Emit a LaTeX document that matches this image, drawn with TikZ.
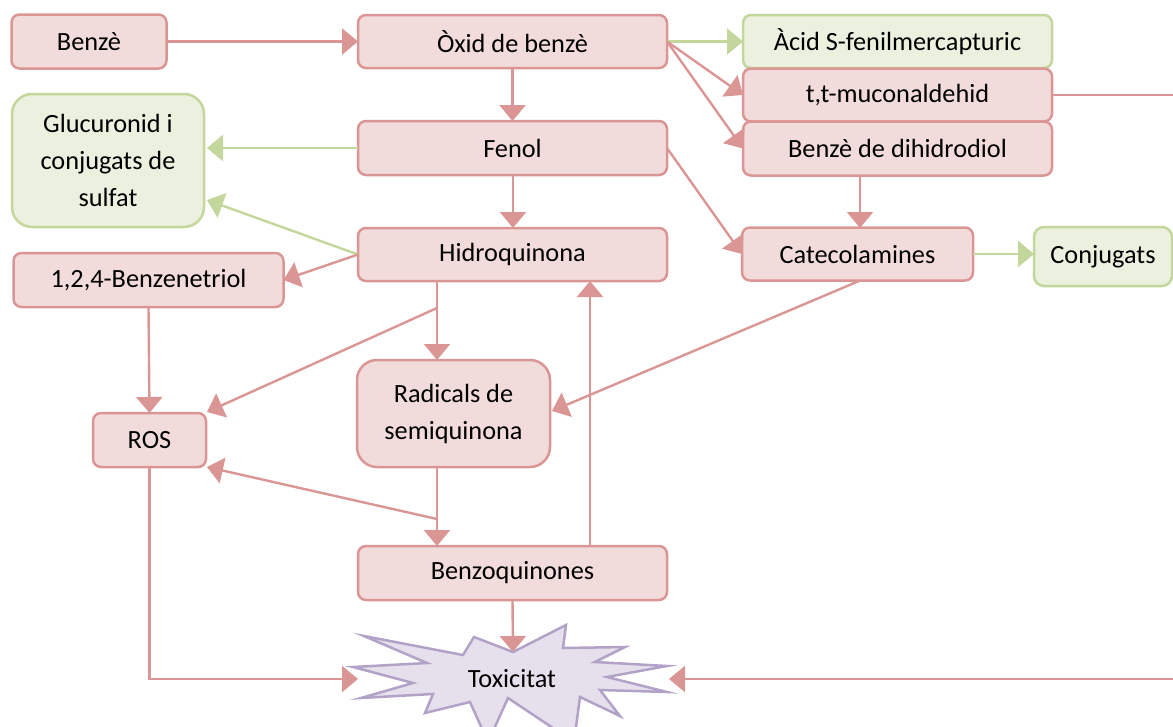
\documentclass[tikz,border=0pt]{standalone}
\usepackage{fontspec}
\setmainfont{Carlito}
\usetikzlibrary{arrows.meta}
\definecolor{pinkfill}{HTML}{F2DCDB}
\definecolor{pinkline}{HTML}{D99694}
\definecolor{greenfill}{HTML}{EBF1DE}
\definecolor{greenline}{HTML}{C3D69B}
\definecolor{violetfill}{HTML}{E5E0EC}
\definecolor{violetline}{HTML}{B3A2C7}
\begin{document}
\begin{tikzpicture}[x=1pt,y=-1pt,
  every node/.style={font=\fontsize{26.3}{37}\selectfont, text=black, inner sep=0pt, outer sep=0pt},
  box/.style={rectangle, rounded corners=8pt, line width=2.5pt, align=center},
  pinkbox/.style={box, draw=pinkline, fill=pinkfill},
  greenbox/.style={box, draw=greenline, fill=greenfill},
  wide/.style={minimum width=309pt, minimum height=53pt},
  link/.style={line width=2.4pt, draw=pinkline, -{Triangle[length=16pt,width=26pt]}},
  glink/.style={line width=2.4pt, draw=greenline, -{Triangle[length=16pt,width=26pt]}},
]
\useasboundingbox (0,0) rectangle (1173,726);

% metabolite boxes
\node[pinkbox, minimum width=155pt, minimum height=54pt] (benze) at (89,41.5) {Benzè};
\node[pinkbox, wide] (oxid) at (512.5,41.5) {Òxid de benzè};
\node[greenbox, wide] (acid) at (897.5,41.5) {Àcid S-fenilmercapturic};
\node[pinkbox, wide] (muc) at (897.5,95) {t,t-muconaldehid};
\node[pinkbox, wide, minimum height=54pt] (dihid) at (897.5,148.5) {Benzè de dihidrodiol};
\node[greenbox, rounded corners=20pt, minimum width=192pt, minimum height=133pt] (gluc) at (108,160.5) {Glucuronid i\\conjugats de\\sulfat};
\node[pinkbox, wide, minimum height=54pt] (fenol) at (512.5,148) {Fenol};
\node[pinkbox, wide] (hidro) at (512.5,254.5) {Hidroquinona};
\node[pinkbox, minimum width=270pt, minimum height=54pt] (triol) at (148.5,280) {1,2,4-Benzenetriol};
\node[pinkbox, minimum width=231pt, minimum height=53pt] (catec) at (857.5,254) {Catecolamines};
\node[greenbox, rounded corners=10pt, minimum width=138pt, minimum height=59pt] (conj) at (1103,256.5) {Conjugats};
\node[pinkbox, rounded corners=20pt, minimum width=193pt, minimum height=107pt] (radic) at (453.5,413.5) {Radicals de\\semiquinona};
\node[pinkbox, minimum width=113pt, minimum height=54pt] (ros) at (149.5,440) {ROS};
\node[pinkbox, wide, minimum height=54pt] (benzoq) at (512.5,573) {Benzoquinones};

% explosion outline
\draw[line width=2.5pt, draw=violetline, fill=violetfill, line join=miter]
  (364,636) -- (463,655) -- (474,637) -- (513,652) -- (566,625) -- (563,648)
  -- (625,647) -- (595,662) -- (667,666) -- (607,677) -- (667,692) -- (600,690)
  -- (620,716) -- (580,697) -- (574,742) -- (508,698) -- (488,742) -- (470,702)
  -- (425,713) -- (433,694) -- (361,698) -- (413,683) -- (353,667) -- (427,663)
  -- cycle;
\node (tox) at (512,679) {Toxicitat};
\coordinate (toxtop) at (513,652);
\coordinate (toxleft) at (358,679);
\coordinate (toxright) at (669,679);

% connector junctions and routing points
\coordinate (hqA) at (437,281);
\coordinate (rdA) at (437,360);
\coordinate (hqB) at (437,308);
\coordinate (rdB) at (437,467);
\coordinate (bqA) at (437,546);
\coordinate (rdC) at (437,519);
\coordinate (bqB) at (590,546);
\coordinate (hqC) at (590,281);
\coordinate (rosNE) at (207,412);
\coordinate (rosSE) at (207,467);
\coordinate (fenS) at (513,175);
\coordinate (hqN) at (513,228);
\coordinate (dhS) at (860,175);
\coordinate (ctN) at (860,228);
\coordinate (ctS) at (859,281);
\coordinate (rdE) at (552,411);
\coordinate (glucA) at (207,200);
\coordinate (glucB) at (207,148);
\coordinate (conjW) at (1034,254);
\coordinate (edge) at (1182,95);

% connectors
\draw[link] (benze) -- (oxid);
\draw[glink] (oxid.east) -- (acid.west);
\draw[link] (oxid.east) -- (muc.west);
\draw[link] (oxid.east) -- (dihid.west);
\draw[link] (oxid.south) -- (fenol.north);
\draw[glink] (fenol.west) -- (glucB);
\draw[glink] (hidro.west) -- (glucA);
\draw[link] (hidro.west) -- (triol.east);
\draw[link] (fenS) -- (hqN);
\draw[link] (fenol.east) -- (catec.west);
\draw[link] (dhS) -- (ctN);
\draw[glink] (catec.east) -- (conjW);
\draw[link] (hqA) -- (rdA);
\draw[link] (hqB) -- (rosNE);
\draw[link] (ctS) -- (rdE);
\draw[link] (triol.south) -- (ros.north);
\draw[link] (rdB) -- (bqA);
\draw[link] (rdC) -- (rosSE);
\draw[link] (bqB) -- (hqC);
\draw[link] (benzoq.south) -- (toxtop);
\draw[link] (ros.south) |- (toxleft);
\draw[link] (muc.east) -- (edge) |- (toxright);
\end{tikzpicture}
\end{document}
